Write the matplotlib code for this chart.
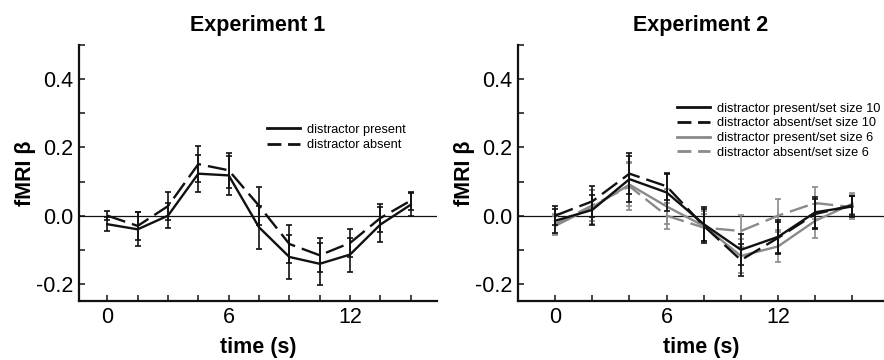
import matplotlib
matplotlib.use("Agg")
import matplotlib.pyplot as plt
from matplotlib.lines import Line2D

plt.rcParams['font.family'] = ['Liberation Sans', 'DejaVu Sans']

# ---------------- data ----------------
t1 = [0, 1.5, 3, 4.5, 6, 7.5, 9, 10.5, 12, 13.5, 15]
exp1_present = [-0.025, -0.040, 0.000, 0.123, 0.118, -0.034, -0.121, -0.141, -0.114, -0.026, 0.032]
exp1_present_err = [0.021, 0.050, 0.037, 0.054, 0.057, 0.063, 0.064, 0.061, 0.050, 0.050, 0.034]
exp1_absent = [0.000, -0.030, 0.028, 0.151, 0.133, 0.029, -0.083, -0.116, -0.080, -0.007, 0.044]
exp1_absent_err = [0.014, 0.040, 0.040, 0.052, 0.052, 0.055, 0.057, 0.050, 0.042, 0.042, 0.026]

t2 = [0, 2, 4, 6, 8, 10, 12, 14, 16]
exp2_p10 = [-0.015, 0.017, 0.107, 0.068, -0.025, -0.100, -0.062, 0.010, 0.027]
exp2_p10_err = [0.035, 0.045, 0.068, 0.055, 0.050, 0.045, 0.050, 0.045, 0.030]
exp2_a10 = [0.000, 0.042, 0.123, 0.086, -0.030, -0.130, -0.065, 0.005, 0.030]
exp2_a10_err = [0.027, 0.046, 0.060, 0.040, 0.050, 0.048, 0.045, 0.045, 0.028]
exp2_p6 = [-0.030, 0.025, 0.091, 0.027, -0.030, -0.118, -0.090, -0.015, 0.035]
exp2_p6_err = [0.028, 0.050, 0.063, 0.050, 0.045, 0.050, 0.047, 0.050, 0.030]
exp2_a6 = [-0.025, 0.030, 0.086, 0.000, -0.035, -0.045, 0.000, 0.037, 0.025]
exp2_a6_err = [0.030, 0.045, 0.070, 0.038, 0.040, 0.048, 0.049, 0.047, 0.035]

labels1 = ['distractor present', 'distractor absent']
labels2 = ['distractor present/set size 10', 'distractor absent/set size 10',
           'distractor present/set size 6', 'distractor absent/set size 6']
xtick_labels = [0, 6, 12]
ytick_major = [-0.2, 0.0, 0.2, 0.4]
ytick_minor = [-0.1, 0.1, 0.3, 0.5]

# ---------------- style ----------------
W, H = 884, 360
fig = plt.figure(figsize=(W / 100, H / 100), dpi=100)

BLACK = '#111111'
GRAY = '#8a8a8a'
LW = 1.7
DASH = (8, 3)


def px(x0, y0, x1, y1):
    return [x0 / W, 1 - y1 / H, (x1 - x0) / W, (y1 - y0) / H]


ax1 = fig.add_axes(px(79, 45, 437, 301))
ax2 = fig.add_axes(px(518, 45, 884, 301))


def style(ax, xt, xlim, title):
    ax.set_xlim(*xlim)
    ax.set_ylim(-0.25, 0.5)
    for s in ['top', 'right']:
        ax.spines[s].set_visible(False)
    for s in ['left', 'bottom']:
        ax.spines[s].set_linewidth(1.6)
        ax.spines[s].set_color(BLACK)
    ax.axhline(0, color=BLACK, lw=0.9, zorder=1)
    ax.set_xticks(xt, minor=True)
    ax.set_xticks(xtick_labels)
    ax.set_xticklabels([str(v) for v in xtick_labels])
    ax.set_yticks(ytick_major)
    ax.set_yticklabels(['-0.2', '0.0', '0.2', '0.4'])
    ax.set_yticks(ytick_minor, minor=True)
    ax.tick_params(which='both', direction='in', length=4, width=1.1,
                   labelsize=15.5, pad=4, color=BLACK)
    ax.set_xlabel('time (s)', fontsize=15.5, fontweight='bold', labelpad=7)
    ax.set_ylabel('fMRI β', fontsize=15.5, fontweight='bold', labelpad=0)
    ax.set_title(title, fontsize=15.5, fontweight='bold', pad=10)


def series(ax, x, y, e, color, dashed, z):
    ls = (0, DASH) if dashed else '-'
    ax.errorbar(x, y, yerr=e, color=color, lw=LW, ls=ls, elinewidth=1.2,
                capsize=2.5, capthick=1.2, zorder=z)


style(ax1, t1, (-1.4, 16.3), 'Experiment 1')
series(ax1, t1, exp1_present, exp1_present_err, BLACK, False, 3)
series(ax1, t1, exp1_absent, exp1_absent_err, BLACK, True, 3)

style(ax2, t2, (-2.0, 17.7), 'Experiment 2')
series(ax2, t2, exp2_a6, exp2_a6_err, GRAY, True, 2)
series(ax2, t2, exp2_p6, exp2_p6_err, GRAY, False, 2)
series(ax2, t2, exp2_a10, exp2_a10_err, BLACK, True, 3)
series(ax2, t2, exp2_p10, exp2_p10_err, BLACK, False, 3)

LEG_DASH = (0, (5, 2.4))
h1 = [Line2D([], [], color=BLACK, lw=2, ls='-'),
      Line2D([], [], color=BLACK, lw=2, ls=LEG_DASH)]
fig.legend(h1, labels1, loc='center left', bbox_to_anchor=(267 / W, 1 - 137.5 / H),
           frameon=False, fontsize=9.2, handlelength=2.6, handletextpad=0.55,
           labelspacing=0.28, borderpad=0, borderaxespad=0)

h2 = [Line2D([], [], color=BLACK, lw=2, ls='-'),
      Line2D([], [], color=BLACK, lw=2, ls=LEG_DASH),
      Line2D([], [], color=GRAY, lw=2, ls='-'),
      Line2D([], [], color=GRAY, lw=2, ls=LEG_DASH)]
fig.legend(h2, labels2, loc='center left', bbox_to_anchor=(677 / W, 1 - 130.7 / H),
           frameon=False, fontsize=9.2, handlelength=2.6, handletextpad=0.55,
           labelspacing=0.2, borderpad=0, borderaxespad=0)

fig.savefig('out.png', dpi=100)
